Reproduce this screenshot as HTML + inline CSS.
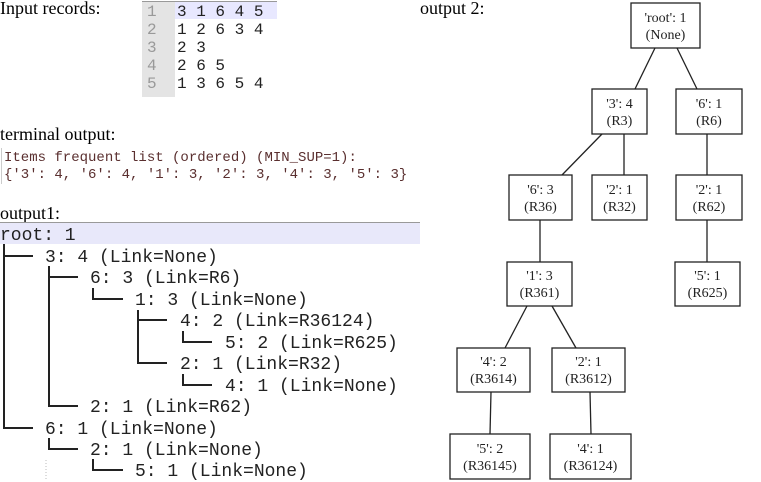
<!DOCTYPE html>
<html><head><meta charset="utf-8"><style>
html,body{margin:0;padding:0;background:#fff;}
svg{display:block;}
</style></head><body>
<svg width="761" height="482" viewBox="0 0 761 482" xmlns="http://www.w3.org/2000/svg">
<rect width="761" height="482" fill="#fff"/>
<!-- Labels -->
<g font-family="Liberation Serif, serif" font-size="18" fill="#000">
<text x="0" y="14">Input records:</text>
<text x="0" y="140">terminal output:</text>
<text x="0" y="219">output1:</text>
<text x="420" y="14">output 2:</text>
</g>
<!-- Input records -->
<rect x="142" y="2" width="33" height="95" fill="#e4e4e4"/>
<rect x="175" y="2" width="102" height="17" fill="#e8e8ff"/>
<line x1="142" y1="1.5" x2="277" y2="1.5" stroke="#999" stroke-width="1"/>
<g font-family="Liberation Mono, monospace" font-size="16">
<g fill="#999">
<text x="147" y="16">1</text><text x="147" y="34">2</text><text x="147" y="52">3</text><text x="147" y="70">4</text><text x="147" y="88">5</text>
</g>
<g fill="#222">
<text x="177" y="16" letter-spacing="0">3 1 6 4 5</text>
<text x="177" y="34">1 2 6 3 4</text>
<text x="177" y="52">2 3</text>
<text x="177" y="70">2 6 5</text>
<text x="177" y="88">1 3 6 5 4</text>
</g>
</g>
<!-- Terminal output -->
<line x1="1.5" y1="148" x2="1.5" y2="184" stroke="#ccc"/>
<g font-family="Liberation Mono, monospace" font-size="14" fill="#5a2f2f">
<text x="4" y="161">Items frequent list (ordered) (MIN_SUP=1):</text>
<text x="4" y="178">{'3': 4, '6': 4, '1': 3, '2': 3, '4': 3, '5': 3}</text>
</g>
<!-- output1 -->
<line x1="0" y1="222.5" x2="420" y2="222.5" stroke="#999"/>
<rect x="0" y="223" width="420" height="21" fill="#e8e8fa"/>
<g stroke="#222" stroke-width="2" fill="none">
<path d="M4 244V428H33M4 256H33"/>
<path d="M49 266V406H78M49 277H78"/>
<path d="M93 288V299H123"/>
<path d="M138 310V363H167M138 320H167"/>
<path d="M183 331V342H212"/>
<path d="M183 374V385H212"/>
<path d="M49 438V449H78"/>
<path d="M93 459V470H123"/>
</g>
<line x1="46" y1="460" x2="46" y2="481" stroke="#bbb" stroke-dasharray="1 2"/>
<g font-family="Liberation Mono, monospace" font-size="18" fill="#222">
<text x="0" y="240">root: 1</text>
<text x="45" y="262">3: 4 (Link=None)</text>
<text x="90" y="283">6: 3 (Link=R6)</text>
<text x="135" y="305">1: 3 (Link=None)</text>
<text x="180" y="326">4: 2 (Link=R36124)</text>
<text x="225" y="348">5: 2 (Link=R625)</text>
<text x="180" y="369">2: 1 (Link=R32)</text>
<text x="225" y="391">4: 1 (Link=None)</text>
<text x="90" y="412">2: 1 (Link=R62)</text>
<text x="45" y="434">6: 1 (Link=None)</text>
<text x="90" y="455">2: 1 (Link=None)</text>
<text x="135" y="476">5: 1 (Link=None)</text>
</g>
<!-- output 2 tree -->
<g stroke="#222" stroke-width="1.3">
<line x1="655" y1="48" x2="635" y2="89"/>
<line x1="677" y1="48" x2="697" y2="89"/>
<line x1="602" y1="134" x2="562" y2="175"/>
<line x1="624" y1="134" x2="624" y2="175"/>
<line x1="707" y1="134" x2="707" y2="175"/>
<line x1="540" y1="220" x2="540" y2="262"/>
<line x1="707" y1="220" x2="707" y2="262"/>
<line x1="527" y1="306" x2="505" y2="348"/>
<line x1="552" y1="306" x2="576" y2="348"/>
<line x1="491" y1="392" x2="490" y2="434"/>
<line x1="590" y1="392" x2="591" y2="434"/>
</g>
<g stroke="#222" stroke-width="1.3" fill="#fff">
<rect x="631" y="3" width="69" height="45"/>
<rect x="592" y="89" width="55" height="45"/>
<rect x="676" y="89" width="66" height="45"/>
<rect x="509" y="175" width="63" height="45"/>
<rect x="592" y="175" width="55" height="45"/>
<rect x="676" y="175" width="66" height="45"/>
<rect x="507" y="262" width="65" height="44"/>
<rect x="675" y="262" width="65" height="44"/>
<rect x="457" y="348" width="73" height="44"/>
<rect x="552" y="348" width="73" height="44"/>
<rect x="450" y="434" width="80" height="45"/>
<rect x="550" y="434" width="81" height="45"/>
</g>
<g font-family="Liberation Serif, serif" font-size="14" fill="#222" text-anchor="middle">
<text x="665.5" y="22">'root': 1</text><text x="665.5" y="39">(None)</text>
<text x="619.5" y="108">'3': 4</text><text x="619.5" y="125">(R3)</text>
<text x="709" y="108">'6': 1</text><text x="709" y="125">(R6)</text>
<text x="540.5" y="194">'6': 3</text><text x="540.5" y="211">(R36)</text>
<text x="619.5" y="194">'2': 1</text><text x="619.5" y="211">(R32)</text>
<text x="709" y="194">'2': 1</text><text x="709" y="211">(R62)</text>
<text x="539.5" y="280">'1': 3</text><text x="539.5" y="297">(R361)</text>
<text x="707.5" y="280">'5': 1</text><text x="707.5" y="297">(R625)</text>
<text x="493.5" y="366">'4': 2</text><text x="493.5" y="383">(R3614)</text>
<text x="588.5" y="366">'2': 1</text><text x="588.5" y="383">(R3612)</text>
<text x="490" y="453">'5': 2</text><text x="490" y="470">(R36145)</text>
<text x="590.5" y="453">'4': 1</text><text x="590.5" y="470">(R36124)</text>
</g>
</svg>
</body></html>
